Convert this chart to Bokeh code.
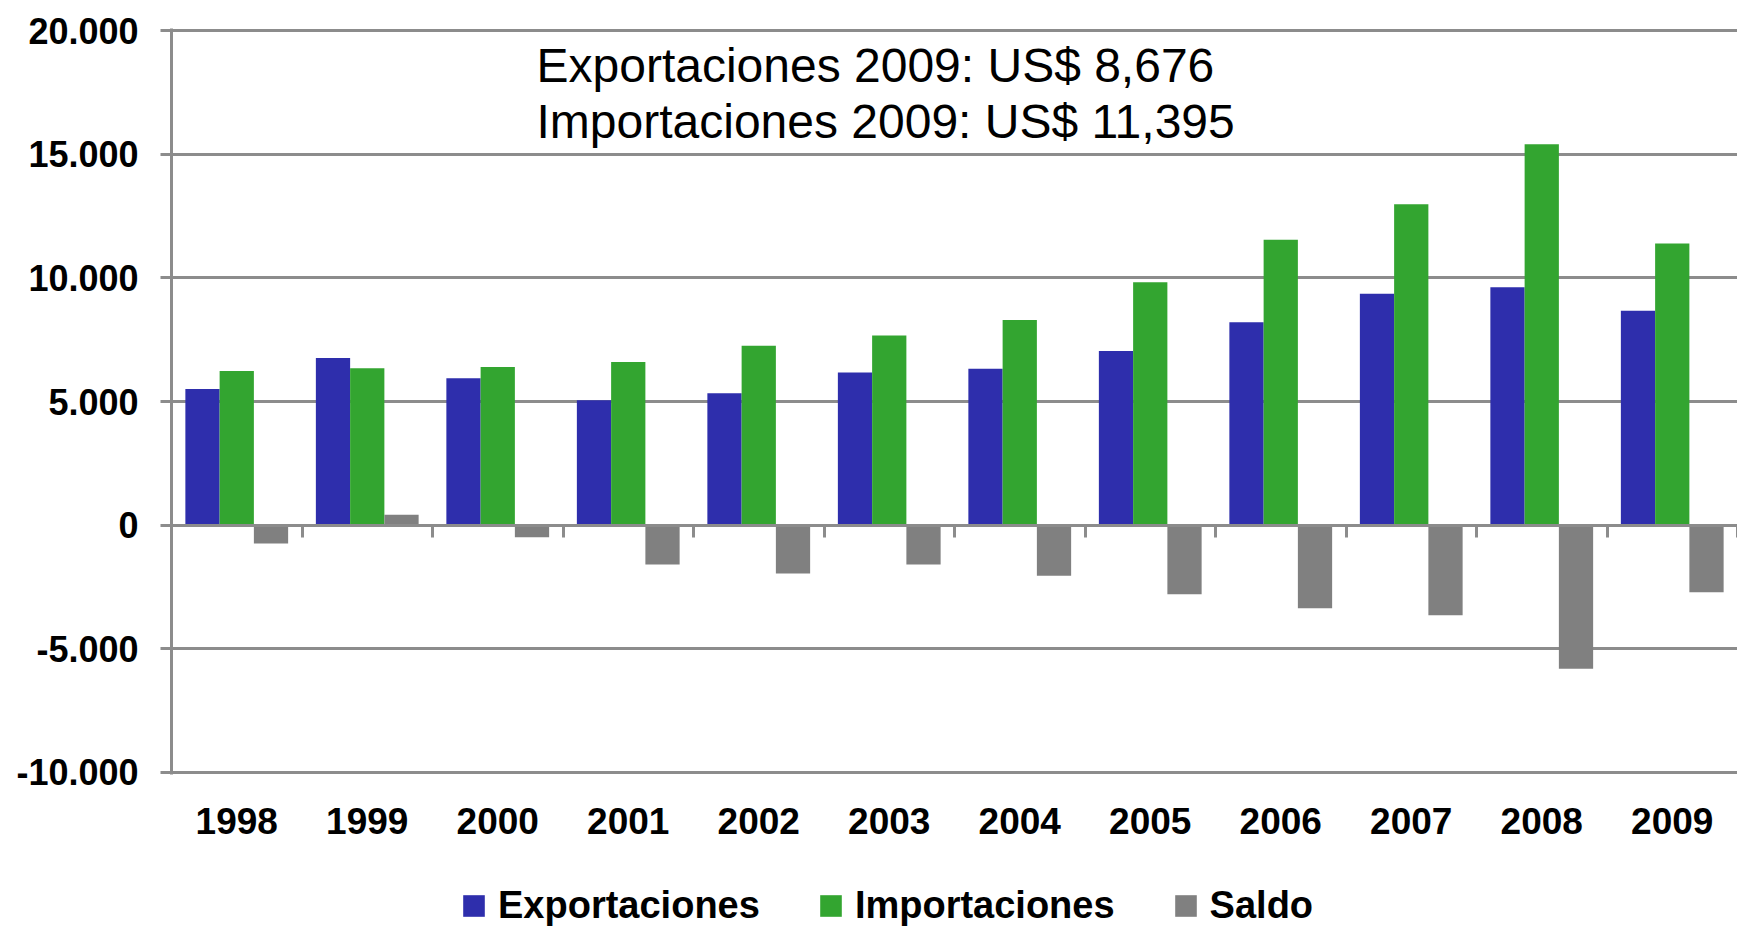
from bokeh.plotting import figure
from bokeh.layouts import column
from bokeh.models import (Range1d, LinearAxis, FixedTicker, Legend,
                          LegendItem, Label, ColumnDataSource)
from bokeh.transform import dodge
from bokeh.embed import file_html
from bokeh.resources import INLINE

years = ["1998", "1999", "2000", "2001", "2002", "2003",
         "2004", "2005", "2006", "2007", "2008", "2009"]
exportaciones = [5511, 6761, 5941, 5054, 5338, 6176, 6324, 7040, 8212, 9359, 9629, 8676]
importaciones = [6237, 6344, 6398, 6599, 7257, 7676, 8297, 9830, 11545, 12989, 15418, 11395]
saldo = [-753, 417, -497, -1595, -1959, -1595, -2054, -2800, -3370, -3650, -5820, -2719]

y_ticks = [-10000, -5000, 0, 5000, 10000, 15000, 20000]
y_tick_labels = ["-10.000", "-5.000", "0", "5.000", "10.000", "15.000", "20.000"]
series_names = ["Exportaciones", "Importaciones", "Saldo"]
annotation_lines = ["Exportaciones 2009: US$ 8,676", "Importaciones 2009: US$ 11,395"]

BLUE = "#2E2EAC"
GREEN = "#33A530"
GRAY = "#808080"
GRID = "#8C8C8C"
FONT = "Liberation Sans"
colors = [BLUE, GREEN, GRAY]

n = len(years)
centers = [i + 0.5 for i in range(n)]
source = ColumnDataSource(dict(x=centers, exp=exportaciones, imp=importaciones, sal=saldo))

p = figure(x_range=Range1d(0, n),
           y_range=Range1d(-10100, 20100),
           width=1737, height=870,
           min_border_left=171, min_border_right=0, min_border_top=28, min_border_bottom=96,
           output_backend="svg", toolbar_location=None)
p.outline_line_color = None
p.background_fill_color = "white"

bw = 0.2625
p.vbar(x=dodge("x", -bw), top="exp", width=bw, source=source, fill_color=BLUE, line_color=None)
p.vbar(x=dodge("x", 0), top="imp", width=bw, source=source, fill_color=GREEN, line_color=None)
p.vbar(x=dodge("x", bw), top="sal", width=bw, source=source, fill_color=GRAY, line_color=None)

# grid
p.xgrid.visible = False
p.ygrid.ticker = FixedTicker(ticks=y_ticks)
p.ygrid.grid_line_color = GRID
p.ygrid.grid_line_width = 3

# y axis
ya = p.yaxis[0]
ya.ticker = FixedTicker(ticks=y_ticks)
ya.major_label_overrides = {t: l for t, l in zip(y_ticks, y_tick_labels)}
ya.axis_line_color = GRID
ya.axis_line_width = 3
ya.major_tick_line_color = GRID
ya.major_tick_line_width = 3
ya.major_tick_out = 11
ya.major_tick_in = 0
ya.minor_tick_line_color = None
ya.major_label_standoff = 22
ya.major_label_text_font = FONT
ya.major_label_text_font_style = "bold"
ya.major_label_text_font_size = "36px"
ya.major_label_text_color = "black"

# x axis: year labels only
xa = p.xaxis[0]
xa.ticker = FixedTicker(ticks=centers)
xa.major_label_overrides = {c: y for c, y in zip(centers, years)}
xa.axis_line_color = None
xa.major_tick_line_color = None
xa.major_tick_out = 0
xa.major_tick_in = 0
xa.minor_tick_line_color = None
xa.minor_tick_out = 0
xa.major_label_standoff = 33
xa.major_label_text_font = FONT
xa.major_label_text_font_style = "bold"
xa.major_label_text_font_size = "37px"
xa.major_label_text_color = "black"

# zero axis with ticks at category boundaries
za = LinearAxis(fixed_location=0, ticker=FixedTicker(ticks=list(range(n + 1))))
za.axis_line_color = GRID
za.axis_line_width = 3
za.major_tick_line_color = GRID
za.major_tick_line_width = 3
za.major_tick_out = 12
za.major_tick_in = 0
za.minor_tick_line_color = None
za.minor_tick_out = 0
za.major_label_text_alpha = 0
za.major_label_text_font_size = "1px"
za.major_label_standoff = 0
p.add_layout(za, "below")

# annotation text
for i, line in enumerate(annotation_lines):
    p.add_layout(Label(x=365, y=709 - 56 * i, x_units="screen", y_units="screen",
                       text=line, text_font=FONT, text_font_size="48px",
                       text_color="black", text_baseline="alphabetic"))

# legend strip below the chart
lg = figure(width=1737, height=57, x_range=Range1d(0, 1), y_range=Range1d(0, 1),
            x_axis_location=None, y_axis_location=None,
            min_border_left=0, min_border_right=0, min_border_top=0, min_border_bottom=0,
            output_backend="svg", toolbar_location=None)
lg.outline_line_color = None
lg.xgrid.visible = False
lg.ygrid.visible = False
items = []
for name, col in zip(series_names, colors):
    # one point outside the visible range, only so the legend swatch is drawn
    rr = lg.vbar(x=[5], top=[0.5], width=0.1, fill_color=col, line_color=None)
    items.append(LegendItem(label=name, renderers=[rr]))

legend = Legend(items=items, location=(289, 0), orientation="horizontal",
                label_text_font=FONT, label_text_font_style="bold",
                label_text_font_size="38px", label_text_color="black",
                glyph_width=27, glyph_height=27, label_standoff=11, spacing=57,
                padding=0, margin=0, border_line_color=None, background_fill_alpha=0)
lg.add_layout(legend)

layout = column(p, lg, spacing=0)
open("out.html", "w").write(file_html(layout, INLINE))
